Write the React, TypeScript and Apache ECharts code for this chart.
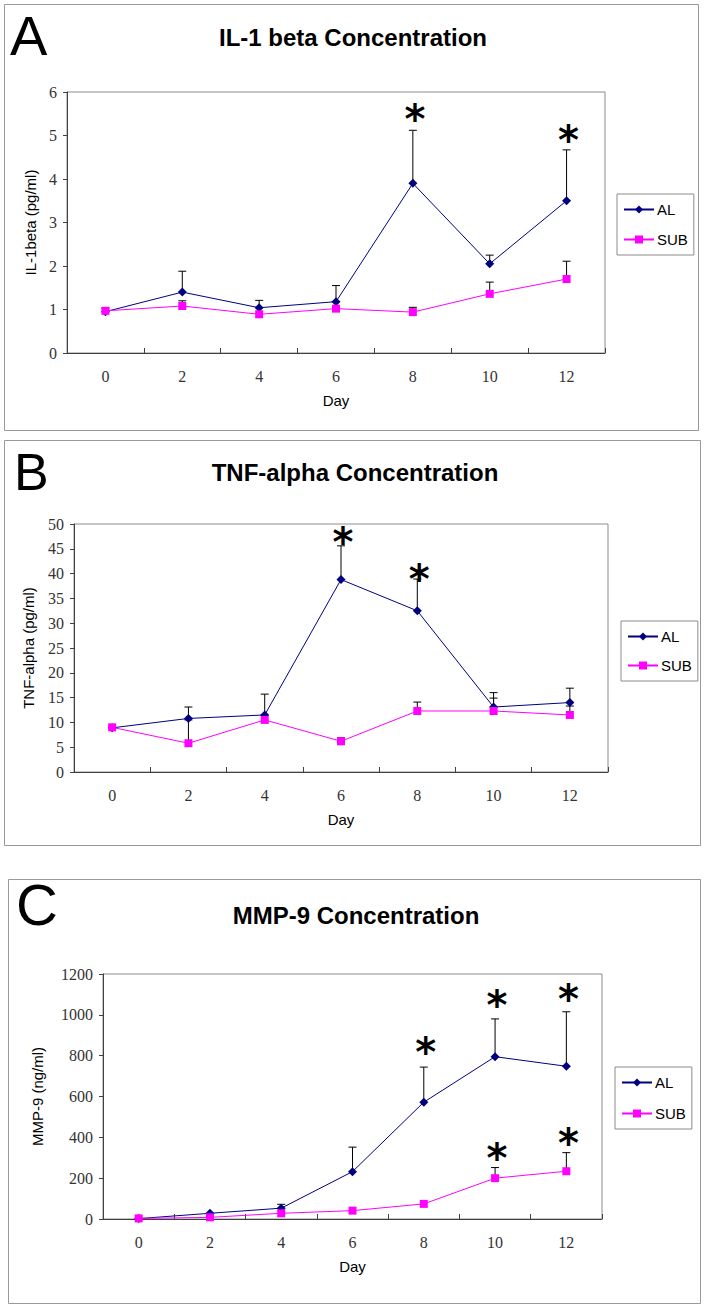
import { useEffect, useRef } from 'react';
import * as echarts from 'echarts';

const days = ['0', '2', '4', '6', '8', '10', '12'];

// Panel A: IL-1 beta (pg/ml)
const il1AL = [0.95, 1.4, 1.04, 1.18, 3.9, 2.05, 3.5];
const il1ALErr = [null, 1.88, 1.21, 1.55, 5.12, 2.25, 4.67];
const il1SUB = [0.97, 1.08, 0.89, 1.02, 0.94, 1.36, 1.7];
const il1SUBErr = [1.03, 1.2, null, null, 1.05, 1.63, 2.11];
const il1Stars = [[4, 5.56], [6, 5.07]];

// Panel B: TNF-alpha (pg/ml)
const tnfAL = [8.9, 10.8, 11.5, 38.8, 32.5, 13.1, 14.0];
const tnfALErr = [null, 13.1, 15.7, 45.6, 38.9, 16.0, 16.9];
const tnfSUB = [9.0, 5.8, 10.5, 6.2, 12.3, 12.3, 11.5];
const tnfSUBErr = [null, 10.5, null, 6.9, 14.1, 14.9, 13.3];
const tnfStars = [[3, 47.9], [4, 40.5]];

// Panel C: MMP-9 (ng/ml)
const mmpAL = [2, 28, 53, 232, 572, 795, 748];
const mmpALErr = [null, null, 72, 352, 744, 980, 1015];
const mmpSUB = [3, 8, 28, 41, 74, 200, 234];
const mmpSUBErr = [null, null, null, null, null, 252, 325];
const mmpStars = [[4, 856], [5, 1085], [6, 1115], [5, 338], [6, 410]];

const yA = { min: 0, max: 6, interval: 1 };
const yB = { min: 0, max: 50, interval: 5 };
const yC = { min: 0, max: 1200, interval: 200 };

const NAVY = '#000080';
const MAGENTA = '#FF00FF';
const SANS = 'Liberation Sans, Arial, sans-serif';
const SERIF = 'Liberation Serif, Times New Roman, serif';

const errData = (tops: (number | null)[], means: number[]) =>
  tops
    .map((t, i) => (t == null ? null : [i, t, means[i]]))
    .filter((d) => d != null);

const errRender = (_params: any, api: any) => {
  const x = api.value(0);
  const top = api.value(1);
  const base = api.value(2);
  const p0 = api.coord([x, base]);
  const p1 = api.coord([x, top]);
  return {
    type: 'group',
    children: [
      { type: 'line', shape: { x1: p0[0], y1: p0[1], x2: p1[0], y2: p1[1] }, style: { stroke: '#000', lineWidth: 1 } },
      { type: 'line', shape: { x1: p1[0] - 4, y1: p1[1], x2: p1[0] + 4, y2: p1[1] }, style: { stroke: '#000', lineWidth: 1 } },
    ],
  };
};

const starRender = (_params: any, api: any) => {
  const p = api.coord([api.value(0), api.value(1)]);
  return {
    type: 'text',
    x: p[0] + 2,
    y: p[1] + 8,
    style: {
      text: '*',
      fontSize: 40,
      fontWeight: 'bold',
      fontFamily: 'DejaVu Sans, sans-serif',
      fill: '#000',
      textAlign: 'center',
      textVerticalAlign: 'middle',
    },
  };
};

export default function App() {
  const ref = useRef<HTMLDivElement>(null);
  useEffect(() => {
    const chart = echarts.init(ref.current!, null, { renderer: 'svg' });

    const grids = [
      { left: 67, top: 92, width: 538, height: 261 },
      { left: 74, top: 524, width: 534, height: 248 },
      { left: 103, top: 974, width: 499, height: 245 },
    ];
    const yCfg = [yA, yB, yC];
    const yNames = ['IL-1beta (pg/ml)', 'TNF-alpha (pg/ml)', 'MMP-9 (ng/ml)'];
    const yNameGaps = [28, 38, 58];
    const legendPos = [
      { left: 617, top: 194, gap: 15 },
      { left: 621, top: 621, gap: 14 },
      { left: 615, top: 1067, gap: 16 },
    ];
    const panels = [
      { al: il1AL, alErr: il1ALErr, sub: il1SUB, subErr: il1SUBErr, stars: il1Stars },
      { al: tnfAL, alErr: tnfALErr, sub: tnfSUB, subErr: tnfSUBErr, stars: tnfStars },
      { al: mmpAL, alErr: mmpALErr, sub: mmpSUB, subErr: mmpSUBErr, stars: mmpStars },
    ];

    const series: any[] = [];
    panels.forEach((p, i) => {
      series.push(
        {
          type: 'custom', name: 'errAL' + i, xAxisIndex: i, yAxisIndex: i, z: 1,
          renderItem: errRender, data: errData(p.alErr, p.al),
        },
        {
          type: 'custom', name: 'errSUB' + i, xAxisIndex: i, yAxisIndex: i, z: 1,
          renderItem: errRender, data: errData(p.subErr, p.sub),
        },
        {
          type: 'line', name: 'AL', xAxisIndex: i, yAxisIndex: i, z: 2,
          data: p.al, symbol: 'diamond', symbolSize: 9,
          itemStyle: { color: NAVY }, lineStyle: { color: NAVY, width: 1 },
        },
        {
          type: 'line', name: 'SUB', xAxisIndex: i, yAxisIndex: i, z: 3,
          data: p.sub, symbol: 'rect', symbolSize: 8,
          itemStyle: { color: MAGENTA }, lineStyle: { color: MAGENTA, width: 1 },
        },
        {
          type: 'custom', name: 'stars' + i, xAxisIndex: i, yAxisIndex: i, z: 4,
          renderItem: starRender, data: p.stars,
        },
      );
    });

    const option: any = {
      animation: false,
      backgroundColor: '#fff',
      grid: grids.map((g) => ({ ...g, show: true, borderColor: '#8c8c8c', borderWidth: 1, backgroundColor: '#fff' })),
      xAxis: grids.map((_g, i) => ({
        type: 'category',
        gridIndex: i,
        data: days,
        boundaryGap: true,
        name: 'Day',
        nameLocation: 'middle',
        nameGap: 40,
        nameTextStyle: { fontFamily: SANS, fontSize: 15, color: '#000' },
        axisLine: { show: true, lineStyle: { color: '#404040', width: 1 } },
        axisTick: { show: true, inside: true, length: 5, lineStyle: { color: '#404040' } },
        axisLabel: { margin: 15, fontFamily: SERIF, fontSize: 16, color: '#333' },
        splitLine: { show: false },
      })),
      yAxis: grids.map((_g, i) => ({
        type: 'value',
        gridIndex: i,
        min: yCfg[i].min,
        max: yCfg[i].max,
        interval: yCfg[i].interval,
        name: yNames[i],
        nameLocation: 'middle',
        nameGap: yNameGaps[i],
        nameTextStyle: { fontFamily: SANS, fontSize: 15, color: '#000' },
        axisLine: { show: true, lineStyle: { color: '#404040', width: 1 } },
        axisTick: { show: true, inside: false, length: 4, lineStyle: { color: '#404040' } },
        axisLabel: { margin: 10, fontFamily: SERIF, fontSize: 16, color: '#333', formatter: (v: number) => String(v) },
        splitLine: { show: false },
      })),
      legend: legendPos.map((l) => ({
        data: ['AL', 'SUB'],
        orient: 'vertical',
        left: l.left,
        top: l.top,
        itemWidth: 30,
        itemHeight: 10,
        itemGap: l.gap,
        padding: [8, 6, 8, 6],
        borderColor: '#8c8c8c',
        borderWidth: 1,
        selectedMode: false,
        textStyle: { fontFamily: SANS, fontSize: 15, color: '#000', padding: [0, 0, 0, -2] },
      })),
      graphic: [
        { type: 'rect', shape: { x: 4.5, y: 4.5, width: 694, height: 426 }, style: { fill: 'none', stroke: '#999', lineWidth: 1 } },
        { type: 'rect', shape: { x: 4.5, y: 440.5, width: 696, height: 405 }, style: { fill: 'none', stroke: '#999', lineWidth: 1 } },
        { type: 'rect', shape: { x: 8.5, y: 879.5, width: 692, height: 424 }, style: { fill: 'none', stroke: '#999', lineWidth: 1 } },
        { type: 'text', x: 10, y: 35, style: { text: 'A', fontSize: 56, fontFamily: SANS, fill: '#000', textVerticalAlign: 'middle' } },
        { type: 'text', x: 14, y: 472, style: { text: 'B', fontSize: 52, fontFamily: SANS, fill: '#000', textVerticalAlign: 'middle' } },
        { type: 'text', x: 16, y: 904, style: { text: 'C', fontSize: 58, fontFamily: SANS, fill: '#000', textVerticalAlign: 'middle' } },
        { type: 'text', x: 353, y: 37, style: { text: 'IL-1 beta Concentration', fontSize: 24, fontWeight: 'bold', fontFamily: SANS, fill: '#000', textAlign: 'center', textVerticalAlign: 'middle' } },
        { type: 'text', x: 355, y: 472, style: { text: 'TNF-alpha Concentration', fontSize: 24, fontWeight: 'bold', fontFamily: SANS, fill: '#000', textAlign: 'center', textVerticalAlign: 'middle' } },
        { type: 'text', x: 356, y: 915, style: { text: 'MMP-9 Concentration', fontSize: 24, fontWeight: 'bold', fontFamily: SANS, fill: '#000', textAlign: 'center', textVerticalAlign: 'middle' } },
      ],
      series,
    };
    chart.setOption(option);
    return () => chart.dispose();
  }, []);
  return (
    <div
      ref={ref}
      style={{ position: 'absolute', left: 0, top: 0, width: 706, height: 1309, background: '#fff' }}
    />
  );
}
